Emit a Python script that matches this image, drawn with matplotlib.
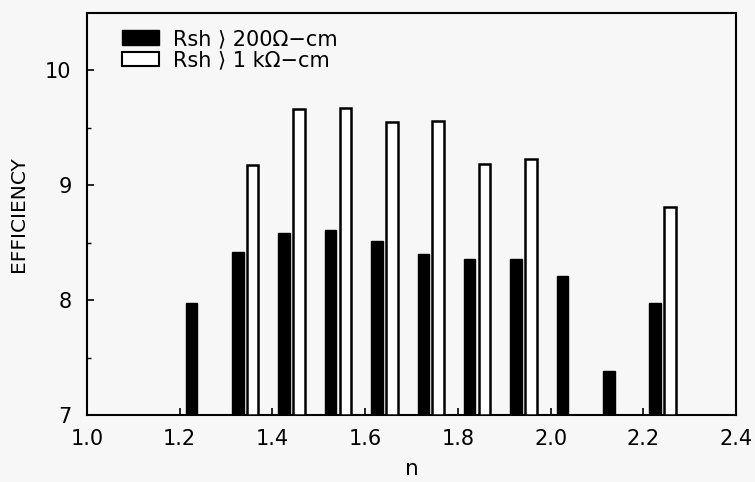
import matplotlib
matplotlib.use("Agg")
import matplotlib.pyplot as plt
import numpy as np
from matplotlib.patches import Patch

n_values = [1.2, 1.3, 1.4, 1.5, 1.6, 1.7, 1.8, 1.9, 2.0, 2.1, 2.2]
eff_200 = [7.97, 8.42, 8.58, 8.61, 8.51, 8.40, 8.36, 8.36, 8.21, 7.38, 7.97]
eff_1k = [None, 9.17, 9.66, 9.67, 9.55, 9.56, 9.18, 9.23, None, None, 8.81]
x_ticks = [1.0, 1.2, 1.4, 1.6, 1.8, 2.0, 2.2, 2.4]
y_ticks = [7, 8, 9, 10]
label_200 = "Rsh \u27e9 200\u03a9\u2212cm"
label_1k = "Rsh \u27e9 1 k\u03a9\u2212cm"

bg = "#f7f7f7"
plt.rcParams['font.family'] = ['DejaVu Sans']
fig = plt.figure(figsize=(7.55, 4.82), dpi=100, facecolor=bg)
ax = fig.add_axes([0.115, 0.139, 0.860, 0.835], facecolor=bg)

base = 7.0
w = 0.025
off_black = 0.0255
off_white = 0.0575

xb = np.array(n_values) + off_black
hb = np.array(eff_200) - base
ax.bar(xb, hb, width=w, bottom=base, color="black", edgecolor="black", linewidth=1.0, zorder=3)

xw = [n + off_white for n, v in zip(n_values, eff_1k) if v is not None]
hw = [v - base for v in eff_1k if v is not None]
ax.bar(xw, hw, width=w, bottom=base, color="white", edgecolor="black", linewidth=1.8, zorder=3)

ax.set_xlim(1.0, 2.4)
ax.set_ylim(7.0, 10.5)
ax.set_xticks(x_ticks)
ax.set_xticklabels([f"{t:.1f}" for t in x_ticks])
ax.set_yticks(y_ticks)
ax.set_yticks([7.5, 8.5, 9.5], minor=True)
ax.tick_params(axis="both", which="major", direction="in", length=5, width=1.2, labelsize=15)
ax.tick_params(axis="x", which="major", pad=10)
ax.tick_params(axis="y", which="major", pad=11)
ax.tick_params(axis="y", which="minor", direction="in", length=3, width=1.0)
for s in ax.spines.values():
    s.set_linewidth(1.5)
    s.set_color("black")

ax.set_xlabel("n", fontsize=15.5, labelpad=7)
ax.set_ylabel("EFFICIENCY", fontsize=14.5, labelpad=12)

handles = [Patch(facecolor="black", edgecolor="black"),
           Patch(facecolor="white", edgecolor="black", linewidth=1.5)]
leg = ax.legend(handles, [label_200, label_1k], loc="upper left",
                bbox_to_anchor=(0.035, 0.99), frameon=False, fontsize=15,
                handlelength=1.75, handleheight=0.7, handletextpad=0.7,
                labelspacing=0.05, borderaxespad=0.2)

fig.savefig("out.png", dpi=100, facecolor=bg)
